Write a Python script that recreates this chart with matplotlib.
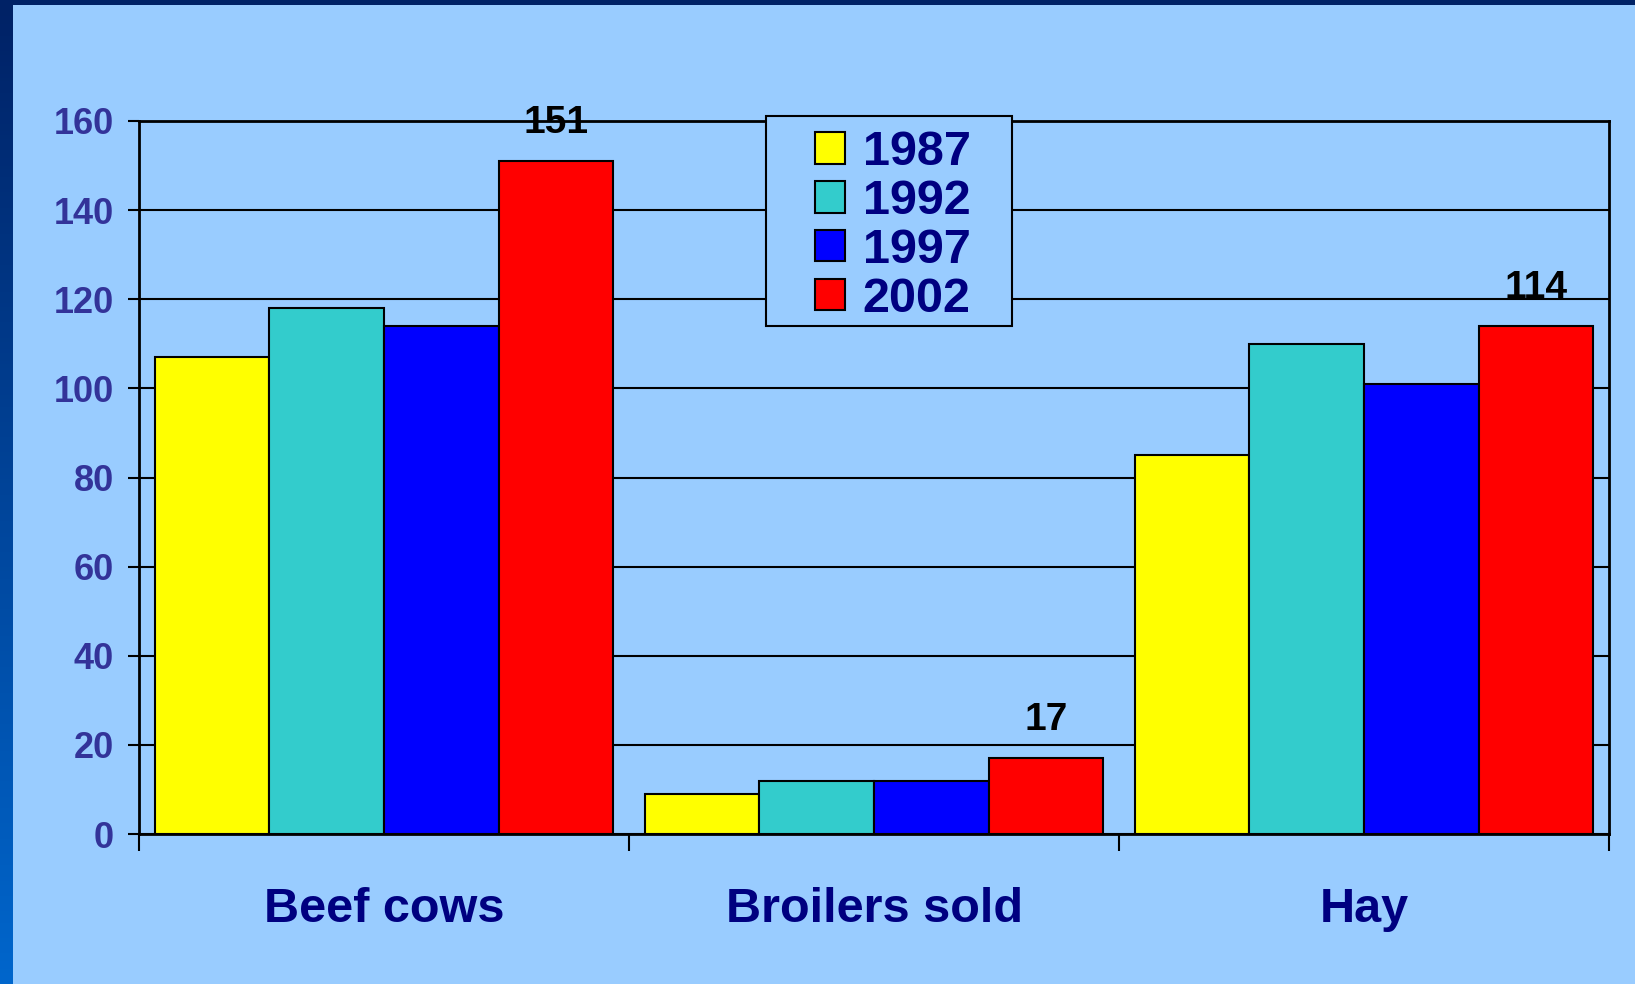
import numpy as np
import matplotlib
matplotlib.use("Agg")
import matplotlib.pyplot as plt
from matplotlib.patches import Rectangle

# data
categories = ["Beef cows", "Broilers sold", "Hay"]
years = ["1987", "1992", "1997", "2002"]
v1987 = [107, 9, 85]
v1992 = [118, 12, 110]
v1997 = [114, 12, 101]
v2002 = [151, 17, 114]
colors = ["#FFFF00", "#33CCCC", "#0000FF", "#FF0000"]
yticks = [0, 20, 40, 60, 80, 100, 120, 140, 160]

plt.rcParams["font.family"] = ["Liberation Sans", "DejaVu Sans"]
plt.rcParams["font.weight"] = "bold"

W, H = 1635, 984
bg = "#99CCFF"
fig = plt.figure(figsize=(W / 100, H / 100), dpi=100, facecolor=bg)

# dark frame strips (top bar and gradient on the left)
fig.patches.append(Rectangle((0, 1 - 5 / H), 1, 5 / H, transform=fig.transFigure,
                             facecolor="#002266", edgecolor="none", zorder=0))
strip = fig.add_axes([0, 0, 12 / W, 1 - 5 / H])
grad = np.linspace(0, 1, 256).reshape(-1, 1)
strip.imshow(grad, aspect="auto", origin="lower",
             cmap=matplotlib.colors.LinearSegmentedColormap.from_list("g", ["#0066CC", "#002266"]),
             extent=[0, 1, 0, 1])
strip.axis("off")

ax = fig.add_axes([139 / W, 1 - 834 / H, (1609 - 139) / W, (834 - 121) / H])
ax.set_facecolor(bg)

series = [v1987, v1992, v1997, v2002]
x = np.arange(len(categories))
w = 0.234
for i, vals in enumerate(series):
    off = (i - 1.5) * w
    bars = ax.bar(x + off, vals, w, color=colors[i], edgecolor="black",
                  linewidth=1.5, label=years[i], zorder=3)
    if i == 3:
        for b, v in zip(bars, vals):
            ax.annotate(str(v), (b.get_x() + b.get_width() / 2, v),
                        xytext=(0, 20), textcoords="offset points",
                        ha="center", va="baseline", fontsize=28,
                        fontweight="bold", color="black", zorder=5,
                        annotation_clip=False)

ax.set_xlim(-0.5, 2.5)
ax.set_ylim(0, 160)
ax.set_yticks(yticks)
ax.set_yticklabels([str(t) for t in yticks])
ax.yaxis.grid(True, color="black", linewidth=1.5, zorder=0)
ax.set_axisbelow(True)

ax.set_xticks([-0.5, 0.5, 1.5, 2.5])
ax.set_xticklabels([])
ax.set_xticks(x, minor=True)
ax.set_xticklabels(categories, minor=True, fontsize=35, fontweight="bold", color="#000080")
ax.tick_params(axis="x", which="minor", length=0, pad=38)
ax.tick_params(axis="x", which="major", length=12, width=1.5, direction="out")
ax.tick_params(axis="y", length=8, width=1.5, direction="out", pad=10,
               labelsize=26, labelcolor="#333399")
for lab in ax.get_yticklabels():
    lab.set_fontweight("bold")

for s in ax.spines.values():
    s.set_color("black")
    s.set_linewidth(2)

# legend box drawn separately so it can be wider than the entries
ax.add_patch(Rectangle((766 / W, 1 - 326 / H), (1012 - 766) / W, (326 - 116) / H,
                       transform=fig.transFigure, facecolor=bg, edgecolor="black",
                       linewidth=1.5, zorder=5, clip_on=False))
leg = ax.legend(loc="upper left", bbox_to_anchor=(815 / W, 1 - 130 / H),
                bbox_transform=fig.transFigure, frameon=False,
                prop={"size": 35, "weight": "bold"}, handlelength=0.62, handleheight=0.62,
                handletextpad=0.36, labelspacing=0.08, borderpad=0, borderaxespad=0)
leg.set_zorder(6)
for t in leg.get_texts():
    t.set_color("#000080")

fig.savefig("out.png", dpi=100, facecolor=bg)
